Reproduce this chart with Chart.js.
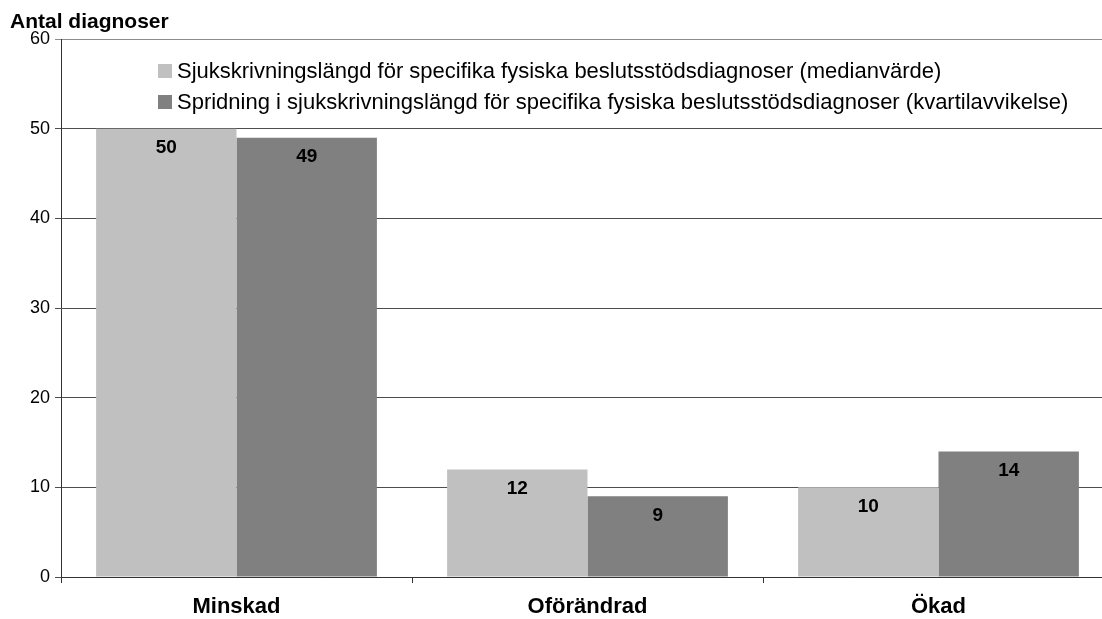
<!DOCTYPE html>
<html>
<head>
<meta charset="utf-8">
<script src="https://cdn.jsdelivr.net/npm/chart.js@4"></script>
<style>
  html, body { margin: 0; padding: 0; background: #fff; overflow: hidden; }
  #wrap { width: 1114px; height: 619px; }
</style>
</head>
<body>
<div id="wrap"><canvas id="chart" width="1114" height="619"></canvas></div>
<script>
const categories = ['Minskad', 'Oförändrad', 'Ökad'];
const medianValues = [50, 12, 10];
const spreadValues = [49, 9, 14];
const seriesNames = [
    'Sjukskrivningslängd för specifika fysiska beslutsstödsdiagnoser (medianvärde)',
    'Spridning i sjukskrivningslängd för specifika fysiska beslutsstödsdiagnoser (kvartilavvikelse)'
];
const yTitle = 'Antal diagnoser';

const FONT = '"Liberation Sans", Arial, sans-serif';

const barLabels = {
    id: 'barLabels',
    afterDatasetsDraw(chart) {
        const c = chart.ctx;
        c.save();
        c.font = 'bold 19px ' + FONT;
        c.fillStyle = '#000';
        c.textAlign = 'center';
        c.textBaseline = 'middle';
        chart.data.datasets.forEach((ds, i) => {
            chart.getDatasetMeta(i).data.forEach((bar, j) => {
                c.fillText(ds.data[j], bar.x, bar.y + 19);
            });
        });
        c.restore();
    }
};

const extras = {
    id: 'extras',
    afterDraw(chart) {
        const c = chart.ctx;
        const area = chart.chartArea;
        c.save();
        // axis title top left
        c.font = 'bold 21px ' + FONT;
        c.fillStyle = '#000';
        c.textAlign = 'left';
        c.textBaseline = 'alphabetic';
        c.fillText(yTitle, 10, 28);
        // legend inside plot
        c.font = '22px ' + FONT;
        chart.data.datasets.forEach((ds, i) => {
            const y = area.top + 25 + i * 31;
            c.fillStyle = ds.backgroundColor;
            c.fillRect(area.left + 97, y, 14, 14);
            c.fillStyle = '#000';
            c.fillText(ds.label, area.left + 116, y + 14);
        });
        c.restore();
    }
};

new Chart(document.getElementById('chart'), {
    type: 'bar',
    data: {
        labels: categories,
        datasets: [
            { label: seriesNames[0], data: medianValues, backgroundColor: '#c0c0c0' },
            { label: seriesNames[1], data: spreadValues, backgroundColor: '#808080' }
        ]
    },
    options: {
        responsive: false,
        animation: false,
        devicePixelRatio: 1,
        categoryPercentage: 0.8,
        barPercentage: 1.0,
        layout: { padding: { top: 39, left: 0, right: 0, bottom: 0 } },
        plugins: {
            legend: { display: false },
            tooltip: { enabled: false }
        },
        scales: {
            x: {
                grid: {
                    drawOnChartArea: false,
                    drawTicks: true,
                    tickLength: 6,
                    color: '#333'
                },
                border: { display: true, color: '#333', width: 1 },
                ticks: {
                    color: '#000',
                    padding: 11,
                    font: { family: FONT, size: 22, weight: 'bold' }
                },
                afterFit(s) { s.height = 42; }
            },
            y: {
                min: 0,
                max: 60,
                ticks: {
                    stepSize: 10,
                    color: '#000',
                    padding: 5,
                    font: { family: FONT, size: 18 }
                },
                grid: {
                    tickLength: 6,
                    color: ctx => ctx.tick && ctx.tick.value === 60 ? '#8c8c8c' : '#4d4d4d'
                },
                border: { display: true, color: '#333', width: 1 },
                afterFit(s) { s.width = 61; }
            }
        }
    },
    plugins: [barLabels, extras]
});
</script>
</body>
</html>
